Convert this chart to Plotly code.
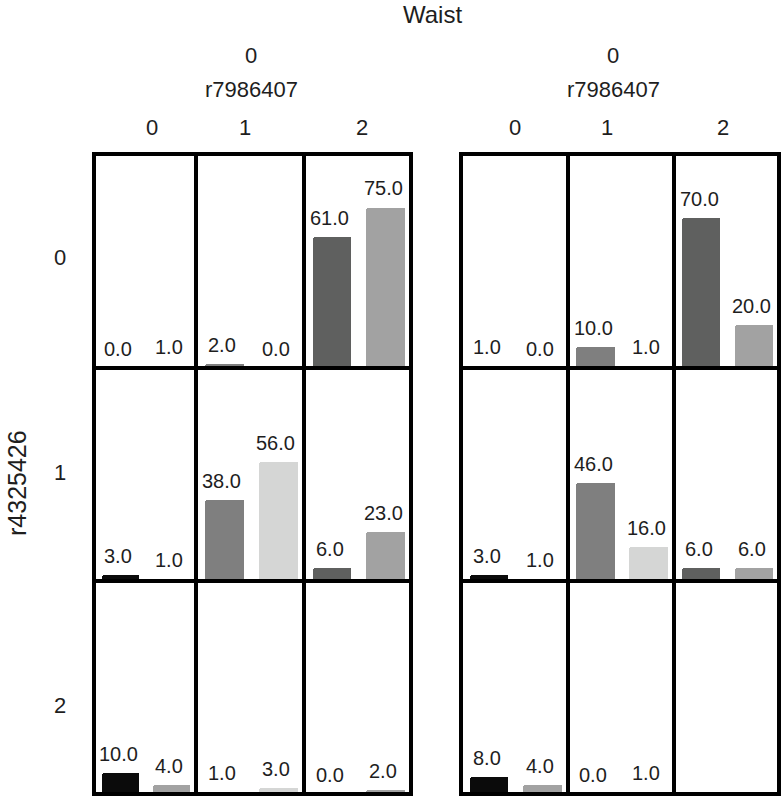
import plotly.graph_objects as go

# ---------------- data ----------------
row_levels = ["0", "1", "2"]          # r4325426
col_levels = ["0", "1", "2"]          # r7986407
panel_titles = ["0", "0"]             # Waist levels shown above each panel

# value of first / second bar in each cell [row][col]
left_first = [[0.0, 2.0, 61.0], [3.0, 38.0, 6.0], [10.0, 1.0, 0.0]]
left_second = [[1.0, 0.0, 75.0], [1.0, 56.0, 23.0], [4.0, 3.0, 2.0]]
right_first = [[1.0, 10.0, 70.0], [3.0, 46.0, 6.0], [8.0, 0.0, None]]
right_second = [[0.0, 1.0, 20.0], [1.0, 16.0, 6.0], [4.0, 1.0, None]]

first_colors = ["#0b0b0b", "#7f7f7f", "#5f605f"]
second_colors = ["#a2a2a2", "#d5d6d5", "#a2a2a2"]

# ---------------- layout geometry (pixels) ----------------
W, H = 783, 798
col_edges = [[94, 196, 304, 411], [461, 568, 674, 779]]
row_edges = [154, 368, 581, 794]

FONT = "Liberation Sans, Arial, sans-serif"
TXT = "#1e1e1e"

def px(x):
    return x / W

def py(y):
    return 1 - y / H

fig = go.Figure()
layout = {}
annotations = []
shapes = []

panels = [(left_first, left_second), (right_first, right_second)]
n = 0
for p, (firsts, seconds) in enumerate(panels):
    for r in range(3):
        for c in range(3):
            n += 1
            xa = "x" if n == 1 else f"x{n}"
            ya = "y" if n == 1 else f"y{n}"
            xkey = "xaxis" if n == 1 else f"xaxis{n}"
            ykey = "yaxis" if n == 1 else f"yaxis{n}"
            v1 = firsts[r][c]
            v2 = seconds[r][c]
            vals = [v1, v2]
            cols = [first_colors[c], second_colors[c]]
            if v1 is not None:
                fig.add_trace(go.Bar(
                    x=[0, 1], y=vals, width=0.72,
                    marker=dict(color=cols, line=dict(width=0), cornerradius=2),
                    xaxis=xa, yaxis=ya, showlegend=False, hoverinfo="skip",
                ))
                for i, v in enumerate(vals):
                    annotations.append(dict(
                        x=i - 0.04, y=v, xref=xa, yref=ya, text=f"{v:.1f}",
                        showarrow=False, yanchor="bottom", xanchor="center",
                        yshift=6, font=dict(family=FONT, size=20, color=TXT),
                    ))
            else:
                fig.add_trace(go.Bar(x=[0, 1], y=[None, None], xaxis=xa, yaxis=ya,
                                     showlegend=False, hoverinfo="skip"))
            x0, x1 = col_edges[p][c], col_edges[p][c + 1]
            y0, y1 = row_edges[r], row_edges[r + 1]
            layout[xkey] = dict(domain=[px(x0), px(x1)], range=[-0.52, 1.48],
                                showgrid=False, zeroline=False, showticklabels=False,
                                ticks="", showline=False, anchor=ya, fixedrange=True)
            layout[ykey] = dict(domain=[py(y1), py(y0)], range=[0, 100],
                                showgrid=False, zeroline=False, showticklabels=False,
                                ticks="", showline=False, anchor=xa, fixedrange=True)
            shapes.append(dict(type="rect", xref="paper", yref="paper",
                               x0=px(x0), x1=px(x1), y0=py(y1), y1=py(y0),
                               line=dict(color="#000000", width=4), layer="above"))

def label(text, x, y, size, angle=0):
    annotations.append(dict(
        x=px(x), y=py(y), xref="paper", yref="paper", text=text,
        showarrow=False, xanchor="center", yanchor="middle", textangle=angle,
        font=dict(family=FONT, size=size, color=TXT),
    ))

label("Waist", 432, 14, 24)
title_x = [251, 613]
col_label_x = [[152, 245, 362], [515, 607, 723]]
for p in range(2):
    label(panel_titles[p], title_x[p], 55, 22)
    label("r7986407", title_x[p], 90, 22)
    for c in range(3):
        label(col_levels[c], col_label_x[p][c], 127, 22)

row_label_y = [258, 472, 705]
for r in range(3):
    label(row_levels[r], 60, row_label_y[r], 22)
label("r4325426", 17, 483, 25, angle=-90)

fig.update_layout(
    width=W, height=H,
    margin=dict(l=0, r=0, t=0, b=0),
    paper_bgcolor="white", plot_bgcolor="white",
    barmode="group", bargap=0,
    annotations=annotations,
    shapes=shapes,
    **layout,
)

fig.write_html("out.html", config={"displayModeBar": False},
               post_script="document.body.style.margin='0';")
